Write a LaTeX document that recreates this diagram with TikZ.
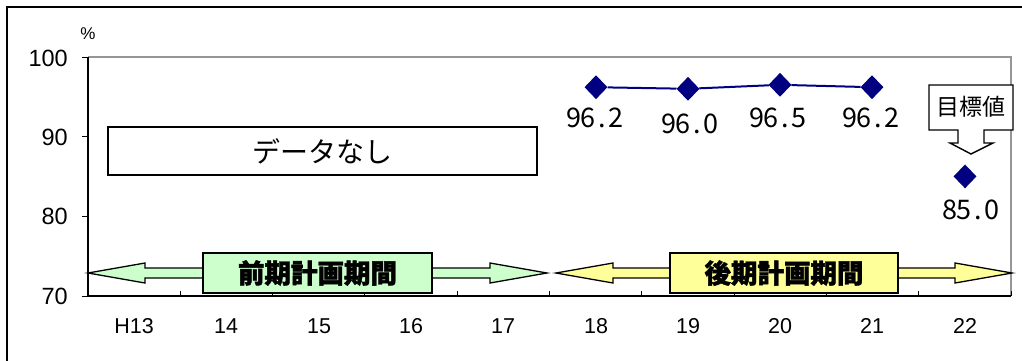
\documentclass[tikz,border=0pt]{standalone}
\usepackage{fontspec}
\setmainfont{Liberation Sans}
\newfontfamily\jp[BoldFeatures={FakeBold=1.6}]{Noto Sans CJK JP}
\usetikzlibrary{shapes.geometric}
\definecolor{navy}{RGB}{0,0,128}
\definecolor{pgreen}{RGB}{204,255,204}
\definecolor{pyellow}{RGB}{255,255,153}
\definecolor{framegray}{RGB}{150,150,150}
\newcommand\dvals[4]{\makebox[14pt]{#1}\makebox[14pt]{#2}\makebox[14pt]{#3}\makebox[14pt]{#4}}
\begin{document}
\begin{tikzpicture}[x=1pt,y=-1pt,
  axlab/.style={font=\fontsize{21.5}{21.5}\selectfont, inner sep=0},
  ylab/.style={font=\fontsize{23.5}{23.5}\selectfont, inner sep=0, anchor=east},
  datalab/.style={font=\jp\fontsize{27}{27}\selectfont, inner sep=0},
  marker/.style={diamond, fill=navy, draw=none, inner sep=0, minimum width=23pt, minimum height=24pt},
  periodbox/.style={draw=black, line width=1.4pt, inner sep=0, minimum width=229pt, minimum height=40pt, font=\jp\bfseries\fontsize{26.5}{26.5}\selectfont},
  periodarrow/.style={draw=black, line width=1.3pt}
]
\useasboundingbox (0,0) rectangle (1022,360);
% outer frame
\draw[line width=2pt] (7,380) -- (7,7) -- (1040,7);
% plot area
\draw[framegray, line width=1.5pt] (88,57) -- (1011,57) -- (1011,296);
\draw[black, line width=1.3pt] (88,57) -- (88,296) -- (1011,296);
\foreach \yy in {57,136.7,216.3,296} \draw[line width=1pt] (82,\yy) -- (88,\yy);
\foreach \i in {1,...,10} \draw[line width=1pt] ({88+92.3*\i},296) -- ({88+92.3*\i},291);
% y labels
\node[ylab] (y100) at (68,58) {100};
\node[ylab] (y90) at (68,137) {90};
\node[ylab] (y80) at (68,216) {80};
\node[ylab] (y70) at (68,296) {70};
\node[inner sep=0, font=\fontsize{17}{17}\selectfont] (pct) at (88,34) {\%};
% x labels
\node[axlab] (xH13) at (134,326) {H13};
\node[axlab] (x14) at (226,326) {14};
\node[axlab] (x15) at (319,326) {15};
\node[axlab] (x16) at (411,326) {16};
\node[axlab] (x17) at (503,326) {17};
\node[axlab] (x18) at (596,326) {18};
\node[axlab] (x19) at (688,326) {19};
\node[axlab] (x20) at (780,326) {20};
\node[axlab] (x21) at (872,326) {21};
\node[axlab] (x22) at (965,326) {22};
% no data box
\node[draw=black, line width=1.5pt, minimum width=429pt, minimum height=48pt, inner sep=0,
      font=\jp\fontsize{28}{28}\selectfont] (nodata) at (322.5,151) {データなし};
% period arrows
\draw[periodarrow, fill=pgreen] (88,273) -- (145,263) -- (145,268) -- (490,268) -- (490,263) -- (547,273)
  -- (490,283) -- (490,278) -- (145,278) -- (145,283) -- cycle;
\node[periodbox, fill=pgreen] (early) at (317.5,273) {前期計画期間};
\draw[periodarrow, fill=pyellow] (556,273) -- (613,263) -- (613,268) -- (955,268) -- (955,263) -- (1012,273)
  -- (955,283) -- (955,278) -- (613,278) -- (613,283) -- cycle;
\node[periodbox, fill=pyellow, minimum width=228pt] (late) at (784,273) {後期計画期間};
% data
\node[marker] (p18) at (596,87.2) {};
\node[marker] (p19) at (688,88.8) {};
\node[marker] (p20) at (780,84.8) {};
\node[marker] (p21) at (872,87.2) {};
\node[marker] (p22) at (965,176.4) {};
\draw[navy, line width=2pt] (p18) -- (p19) -- (p20) -- (p21);
\node[datalab] (l18) at (595,118) {\dvals 96.2};
\node[datalab] (l19) at (690,124) {\dvals 96.0};
\node[datalab] (l20) at (778,118) {\dvals 96.5};
\node[datalab] (l21) at (871,118) {\dvals 96.2};
\node[datalab] (l22) at (971,210) {\dvals 85.0};
% target callout
\draw[line width=1.4pt, fill=white] (929,85) -- (1013,85) -- (1013,130) -- (984,130) -- (984,143) -- (993,143)
  -- (971,154) -- (950,143) -- (958,143) -- (958,130) -- (929,130) -- cycle;
\node[inner sep=0, font=\jp\fontsize{23}{23}\selectfont] (target) at (971,107) {目標値};
\end{tikzpicture}
\end{document}
